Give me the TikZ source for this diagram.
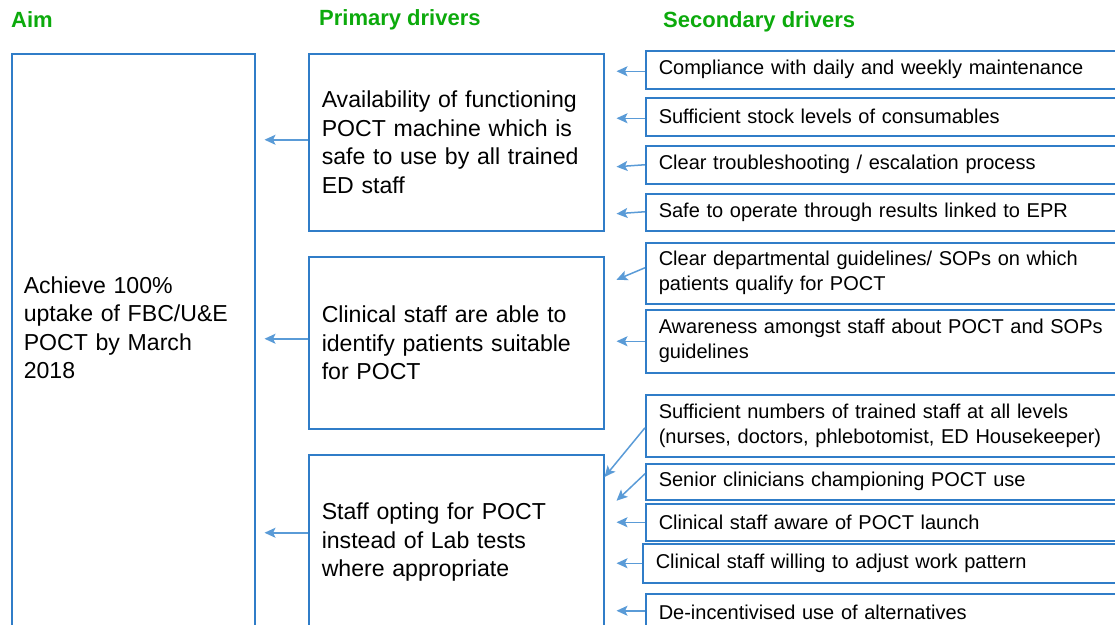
\documentclass[tikz,border=0pt]{standalone}
\usepackage{fontspec}
\setmainfont{Liberation Sans}
\usetikzlibrary{arrows.meta, calc}
\definecolor{drivergreen}{RGB}{12,170,12}
\definecolor{boxblue}{RGB}{48,125,200}
\definecolor{arrowblue}{RGB}{90,155,215}
\tikzstyle{heading} = [anchor=base west, inner sep=0pt, text=drivergreen, font=\fontsize{22}{26}\selectfont\bfseries]
\tikzstyle{bigbox} = [rectangle, draw=boxblue, line width=1.5pt, anchor=north west, inner xsep=13pt, text width=269pt, align=left, font=\fontsize{23.1}{28.6}\selectfont]
\tikzstyle{smallbox} = [rectangle, draw=boxblue, line width=1.5pt, anchor=north west, inner xsep=13pt, inner ysep=4pt, text width=474pt, align=left, font=\fontsize{20}{25}\selectfont]
\tikzstyle{arrow} = [draw=arrowblue, line width=1.5pt, -{Stealth[length=11pt,width=10pt,inset=2.5pt]}]

\begin{document}
\begin{tikzpicture}[x=1pt, y=-1pt]
	\clip (0,0) rectangle (1115,624);
	% headings
	\node(aim_title) [heading] at (11,27) {Aim};
	\node(primary_title) [heading] at (319,25) {Primary drivers};
	\node(secondary_title) [heading] at (663,27) {Secondary drivers};
	
	% aim and primary drivers
	\node(aim) [bigbox, text width=219pt, inner xsep=12pt, minimum height=580pt, text depth=118pt] at (11,53) {Achieve 100\%\\uptake of FBC/U\&E\\POCT by March\\2018};
	\node(p1) [bigbox, minimum height=177pt] at (308,53) {Availability of functioning\\POCT machine which is\\safe to use by all trained\\ED staff};
	\node(p2) [bigbox, minimum height=172pt] at (308,256) {Clinical staff are able to\\identify patients suitable\\for POCT};
	\node(p3) [bigbox, minimum height=175pt] at (308,454) {Staff opting for POCT\\instead of Lab tests\\where appropriate};
	
	% secondary drivers
	\node(s1) [smallbox, minimum height=38pt] at (645,50) {Compliance with daily and weekly maintenance};
	\node(s2) [smallbox, minimum height=38pt] at (645,97) {Sufficient stock levels of consumables};
	\node(s3) [smallbox, minimum height=38pt] at (645,145) {Clear troubleshooting / escalation process};
	\node(s4) [smallbox, minimum height=37pt] at (645,193) {Safe to operate through results linked to EPR};
	\node(s5) [smallbox, minimum height=61pt] at (645,242) {Clear departmental guidelines/ SOPs on which\\patients qualify for POCT};
	\node(s6) [smallbox, minimum height=63pt] at (645,309) {Awareness amongst staff about POCT and SOPs\\guidelines};
	\node(s7) [smallbox, minimum height=62pt] at (645,394) {Sufficient numbers of trained staff at all levels\\(nurses, doctors, phlebotomist, ED Housekeeper)};
	\node(s8) [smallbox, minimum height=36pt] at (645,463) {Senior clinicians championing POCT use};
	\node(s9) [smallbox, minimum height=37pt] at (645,503) {Clinical staff aware of POCT launch};
	\node(s10) [smallbox, minimum height=39pt] at (642,543) {Clinical staff willing to adjust work pattern};
	\node(s11) [smallbox, minimum height=38pt] at (645,593) {De-incentivised use of alternatives};
	
	% primary -> aim
	\draw[arrow] ($(p1.west)+(0,-2.5)$) -- ($(aim.east |- p1.west)+(9,-2.5)$);
	\draw[arrow] ($(p2.west)+(0,-4)$) -- ($(aim.east |- p2.west)+(9,-4)$);
	\draw[arrow] ($(p3.west)+(0,-9.5)$) -- ($(aim.east |- p3.west)+(9,-9.5)$);
	
	% secondary -> primary
	\draw[arrow] ($(s1.west)+(0,1.5)$) -- ($(p1.east |- s1.west)+(12,1.5)$);
	\draw[arrow] ($(s2.west)+(0,1.5)$) -- ($(p1.east |- s2.west)+(12,1.5)$);
	\draw[arrow] (s3.west) -- ($(p1.east |- s3.west)+(12,2)$);
	\draw[arrow] ($(s4.west)+(0,-0.5)$) -- ($(p1.east |- s4.west)+(12,1.5)$);
	\draw[arrow] ($(s5.west)+(0,-5.5)$) -- ($(p2.east |- s5.west)+(12,6.5)$);
	\draw[arrow] (s6.west) -- ($(p2.east |- s6.west)+(12,0)$);
	\draw[arrow] ($(s7.west)+(0,2)$) -- ($(p3.north east)+(0,23)$);
	\draw[arrow] ($(s8.west)+(0,-8)$) -- ($(p3.east |- s8.west)+(12,19)$);
	\draw[arrow] (s9.west) -- ($(p3.east |- s9.west)+(12,0)$);
	\draw[arrow] (s10.west) -- ($(p3.east |- s10.west)+(12,0)$);
	\draw[arrow] ($(s11.west)+(0,-2)$) -- ($(p3.east |- s11.west)+(12,-2)$);
\end{tikzpicture}
\end{document}
